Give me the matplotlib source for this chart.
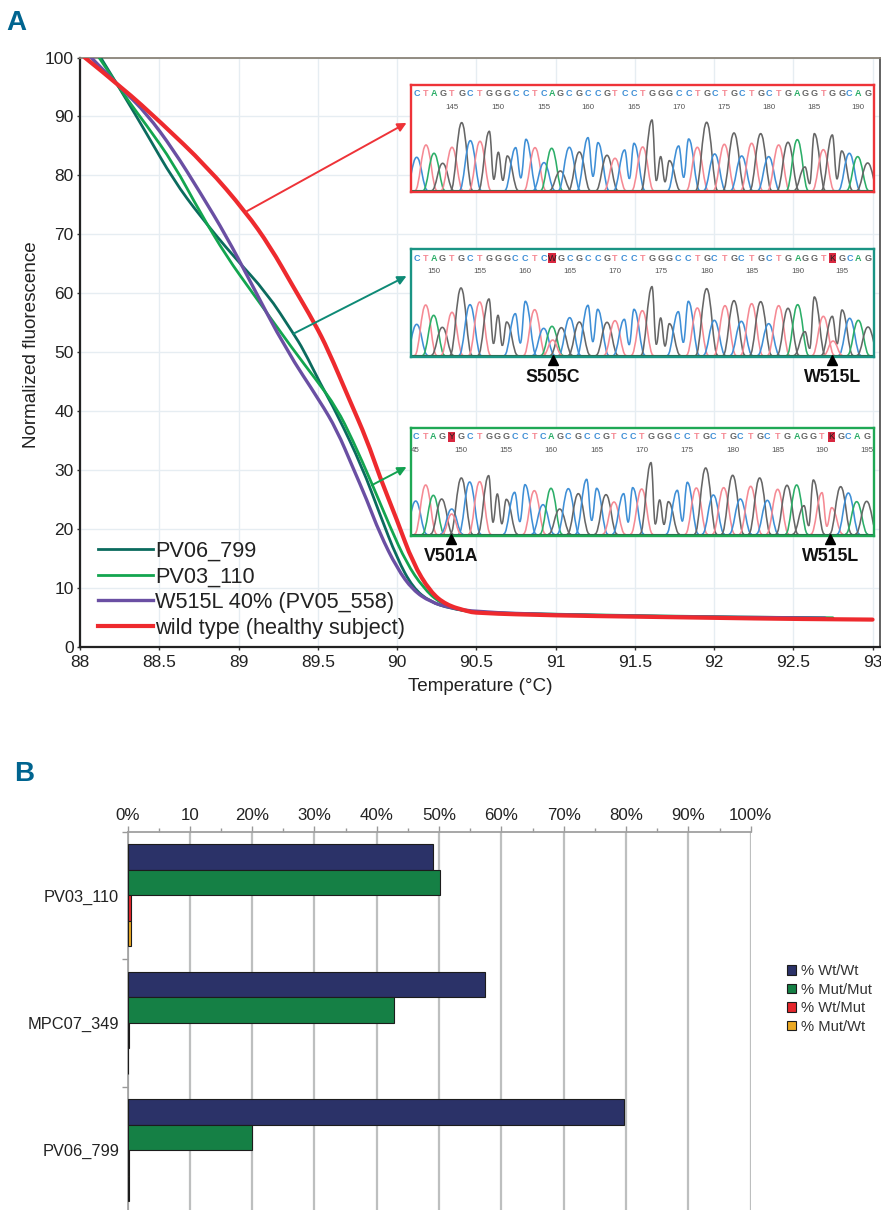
import matplotlib
matplotlib.use('Agg')
import matplotlib.pyplot as plt
from matplotlib.lines import Line2D
from matplotlib.path import Path
from matplotlib.patches import PathPatch, Rectangle

W, H = 881, 1210
REG = ['Liberation Sans', 'DejaVu Sans']
plt.rcParams['font.family'] = REG

# Panel A melting curves (temperature, normalized fluorescence)
red_t = [88.03, 88.27, 88.505, 88.8, 89.045, 89.2, 89.345, 89.48, 89.565, 89.70, 89.81, 89.89, 90.0, 90.10, 90.21, 90.31, 90.44, 90.5, 91, 91.5, 92, 92.5, 93]
red_f = [100, 94.8, 89.1, 81.5, 73.8, 67.9, 61.1, 54.9, 50.4, 41.9, 35.1, 28.9, 21.5, 14.2, 9.3, 7.1, 6.05, 5.7, 5.3, 5.1, 4.9, 4.7, 4.6]
purple_t = [88.07, 88.27, 88.42, 88.59, 88.76, 88.925, 89.07, 89.30, 89.515, 89.62, 89.72, 89.81, 89.89, 90.0, 90.10, 90.21, 90.335, 90.5, 91, 91.7, 92.1, 92.7]
purple_f = [100, 94.5, 90.5, 84.3, 77, 69.6, 62.2, 50.4, 41.6, 36.8, 30.5, 24.9, 19.3, 13.3, 9.6, 7.6, 6.6, 5.9, 5.4, 5.1, 5.0, 4.85]
teal_t = [88.13, 88.27, 88.42, 88.59, 88.76, 88.97, 89.18, 89.345, 89.41, 89.515, 89.62, 89.78, 89.89, 90.0, 90.10, 90.21, 90.335, 90.5, 91, 92, 92.75]
teal_f = [100, 93.9, 87.1, 79.2, 73, 66.2, 60, 53.2, 50.4, 44.7, 39.6, 30.5, 22.6, 15, 10, 7.6, 6.5, 5.8, 5.4, 5.0, 4.8]
green_t = [88.12, 88.27, 88.42, 88.59, 88.76, 88.925, 89.09, 89.345, 89.49, 89.62, 89.72, 89.84, 89.955, 90.06, 90.165, 90.27, 90.4, 90.5, 91, 92.15, 92.75]
green_f = [100, 93.9, 88.5, 82, 73.6, 66.2, 60, 50.4, 45.3, 40.5, 35.1, 27.8, 20.4, 14.2, 10, 7.4, 6.2, 5.8, 5.5, 5.0, 4.9]

# Chromatogram insets: called letters, trace channel, peak positions, peak heights
letters1 = 'CTAGTGCTGGGCCTCAGCGCCGTCCTGGGCCTGCTGCTGCTGAGGTGGCAG'[:51]
trace1 = letters1
pos1 = [50, 78, 102, 128, 156, 185, 211, 240, 268, 295, 322, 347, 378, 405, 432, 455, 481, 508, 538, 564, 594, 621, 645, 674, 702, 728, 756, 782, 808, 836, 866, 892, 920, 944, 973, 1002, 1025, 1055, 1082, 1106, 1136, 1164, 1192, 1215, 1243, 1270, 1297, 1325, 1348, 1373, 1403]
height1 = [100, 137, 112, 82, 130, 204, 150, 148, 178, 115, 104, 129, 154, 129, 84, 127, 59, 130, 116, 159, 144, 106, 97, 122, 142, 131, 212, 102, 90, 134, 155, 130, 205, 110, 139, 173, 104, 142, 171, 102, 137, 145, 153, 71, 171, 123, 167, 119, 112, 102, 83]
num_idx1 = [4, 9, 14, 19, 24, 29, 34, 39, 44, 49]
num_lab1 = ['145', '150', '155', '160', '165', '170', '175', '180', '185', '190']

letters2 = 'CTAGTGCTGGGCCTCWGCGCCGTCCTGGGCCTGCTGCTGCTGAGGTKGCAG'
trace2 = 'CTAGTGCTGGGCCTCAGCGCCGTCCTGGGCCTGCTGCTGCTGAGGTGGCAG'
pos2 = [50, 77, 101, 127, 156, 183, 210, 239, 267, 294, 320, 346, 376, 404, 431, 456, 484, 509, 538, 564, 593, 621, 645, 673, 702, 727, 756, 782, 808, 835, 865, 892, 920, 943, 975, 1002, 1024, 1055, 1082, 1106, 1136, 1164, 1193, 1215, 1243, 1270, 1297, 1326, 1349, 1375, 1404]
height2 = [93, 151, 120, 84, 129, 202, 152, 160, 169, 120, 100, 125, 162, 137, 81, 87, 83, 113, 100, 150, 138, 99, 104, 108, 138, 134, 206, 112, 95, 131, 162, 142, 200, 105, 149, 164, 102, 155, 161, 95, 149, 141, 152, 71, 175, 117, 117, 136, 111, 105, 85]
num_idx2 = [2, 7, 12, 17, 22, 27, 32, 37, 42, 47]
num_lab2 = ['150', '155', '160', '165', '170', '175', '180', '185', '190', '195']
extra_base2 = ['T', 'T']
extra_pos2 = [458, 1299]
extra_height2 = [46, 43]

letters3 = 'CTAGYGCTGGGCCTCAGCGCCGTCCTGGGCCTGCTGCTGCTGAGGTKGCAG'
trace3 = 'CTAGCGCTGGGCCTCAGCGCCGTCCTGGGCCTGCTGCTGCTGAGGTTGCAG'
pos3 = [47, 77, 100, 125, 155, 184, 209, 239, 266, 292, 319, 344, 375, 403, 429, 453, 479, 505, 535, 560, 590, 618, 642, 671, 698, 725, 753, 779, 805, 832, 862, 889, 917, 940, 971, 998, 1021, 1052, 1079, 1102, 1133, 1161, 1190, 1212, 1240, 1266, 1295, 1322, 1345, 1370, 1400]
height3 = [99, 147, 116, 105, 75, 168, 156, 157, 175, 120, 104, 125, 148, 130, 88, 137, 75, 136, 121, 164, 137, 118, 96, 121, 139, 135, 214, 102, 97, 131, 155, 138, 198, 117, 139, 176, 105, 143, 168, 101, 134, 146, 147, 85, 162, 124, 79, 142, 123, 97, 98]
num_idx3 = [0, 5, 10, 15, 20, 25, 30, 35, 40, 45, 50]
num_lab3 = ['45', '150', '155', '160', '165', '170', '175', '180', '185', '190', '195']
extra_base3 = ['T']
extra_pos3 = [155]
extra_height3 = [60]

# Panel B genotype percentages
samples = ['PV03_110', 'MPC07_349', 'PV06_799']
wt_wt = [49.0, 57.3, 79.6]
mut_mut = [50.2, 42.8, 20.0]
wt_mut = [0.6, 0.2, 0.3]
mut_wt = [0.6, 0.1, 0.3]
pct_labels = ['0%', '10', '20%', '30%', '40%', '50%', '60%', '70%', '80%', '90%', '100%']

BASE_COL = {'G': '#666666', 'C': '#3f8fd6', 'T': '#f58a94', 'A': '#2cae68'}


def px_axes(x0, y0, x1, y1):
    # axes from pixel box, y measured from the top of the image
    return fig.add_axes([x0 / W, 1 - y1 / H, (x1 - x0) / W, (y1 - y0) / H])


def smooth_line(ax, xs, ys, col, lw, z):
    # read points act as control points of a quadratic path, keeps the curve from looking kinked
    verts = [(xs[0], ys[0])]
    codes = [Path.MOVETO]
    for i in range(1, len(xs) - 1):
        end = (xs[-1], ys[-1]) if i == len(xs) - 2 else ((xs[i] + xs[i + 1]) / 2, (ys[i] + ys[i + 1]) / 2)
        verts += [(xs[i], ys[i]), end]
        codes += [Path.CURVE3, Path.CURVE3]
    ax.add_patch(PathPatch(Path(verts, codes), fill=False, ec=col, lw=lw, zorder=z, capstyle='round', joinstyle='round'))


def add_peak(ax, x, h, col, xl, yl, xr, yr):
    verts = [(xl, yl), (xl + (x - xl) * 0.42, yl), (x - (x - xl) * 0.42, h), (x, h),
             (x + (xr - x) * 0.42, h), (xr - (xr - x) * 0.42, yr), (xr, yr)]
    codes = [Path.MOVETO] + [Path.CURVE4] * 6
    ax.add_patch(PathPatch(Path(verts, codes), fill=False, ec=col, lw=1.15, capstyle='round'))


def draw_inset(box, edge, baseline, letters, trace, pos, height, idx, labs, extras=None):
    x0, y0, x1, y1 = box
    ax = px_axes(x0, y0, x1, y1)
    ax.set_zorder(5)
    ax.set_xlim(33, 1422)
    ax.set_ylim(-baseline[0], baseline[1])
    ax.set_xticks([])
    ax.set_yticks([])
    for s in ax.spines.values():
        s.set_color(edge)
        s.set_linewidth(1.7)
    n = len(pos)
    for i in range(n):
        col = BASE_COL[trace[i]]
        xl, yl = pos[i] - 33, 0
        xr, yr = pos[i] + 33, 0
        if i > 0 and trace[i - 1] == trace[i]:
            xl = (pos[i - 1] + pos[i]) / 2
            yl = 0.3 * min(height[i - 1], height[i])
        if i < n - 1 and trace[i + 1] == trace[i]:
            xr = (pos[i + 1] + pos[i]) / 2
            yr = 0.3 * min(height[i + 1], height[i])
        add_peak(ax, pos[i], height[i], col, xl, yl, xr, yr)
    if extras:
        for b, x, h in zip(*extras):
            add_peak(ax, x, h, BASE_COL[b], x - 28, 0, x + 28, 0)
    ax.axhline(1.5, color='#2f6b4f', lw=0.8)
    for i, ch in enumerate(letters):
        if ch in 'WKY':
            ax.add_patch(Rectangle((pos[i] - 11, 276), 22, 30, fc='#d8273f', ec='none'))
            ax.text(pos[i], 291, ch, ha='center', va='center', fontsize=6.5, color='#222222')
        else:
            ax.text(pos[i], 291, ch, ha='center', va='center', fontsize=6.5, fontweight='bold', color=BASE_COL[ch])
    for i, lab in zip(idx, labs):
        ax.text(pos[i], 250, lab, ha='center', va='center', fontsize=5.7, color='#555555')
    return ax


def mark(ax, x, label):
    ax.plot([x], [-14], marker='^', ms=6.5, color='black', clip_on=False, zorder=6)
    ax.text(x, -66, label, ha='center', va='center', fontsize=12.8, fontweight='bold', color='#111111')


fig = plt.figure(figsize=(W / 100, H / 100), dpi=100)
fig.text(16 / W, 1 - 23 / H, 'A', ha='center', va='center', fontsize=20, fontweight='bold', color='#00648f')
fig.text(24 / W, 1 - 774 / H, 'B', ha='center', va='center', fontsize=20, fontweight='bold', color='#00648f')

# Panel A
ax = px_axes(80, 57.5, 880, 646.7)
ax.set_xlim(88, 93.047)
ax.set_ylim(0, 100)
ax.grid(True, color='#e6edf2', lw=1)
ax.set_axisbelow(True)
smooth_line(ax, teal_t, teal_f, '#0b6b5e', 2, 3)
smooth_line(ax, green_t, green_f, '#13a54f', 2, 3)
smooth_line(ax, purple_t, purple_f, '#6a4fa3', 2.4, 4)
smooth_line(ax, red_t, red_f, '#ee2a2e', 3, 5)
curve_handles = [Line2D([], [], color='#0b6b5e', lw=2), Line2D([], [], color='#13a54f', lw=2),
                 Line2D([], [], color='#6a4fa3', lw=2.4), Line2D([], [], color='#ee2a2e', lw=3)]
curve_names = ['PV06_799', 'PV03_110', 'W515L 40% (PV05_558)', 'wild type (healthy subject)']
ax.set_xticks([88, 88.5, 89, 89.5, 90, 90.5, 91, 91.5, 92, 92.5, 93])
ax.set_xticklabels(['88', '88.5', '89', '89.5', '90', '90.5', '91', '91.5', '92', '92.5', '93'])
ax.set_yticks(range(0, 101, 10))
ax.tick_params(labelsize=12.5, length=2.5, width=1, color='#333333', labelcolor='#222222')
ax.tick_params(axis='x', pad=3.5)
ax.tick_params(axis='y', pad=2)
ax.set_xlabel('Temperature (°C)', fontsize=13.6, color='#222222')
ax.set_ylabel('Normalized fluorescence', fontsize=13.6, color='#222222')
ax.xaxis.set_label_coords(0.5, -0.053)
ax.yaxis.set_label_coords(-0.05, 0.512)
for s in ['left', 'bottom']:
    ax.spines[s].set_linewidth(1.6)
    ax.spines[s].set_color('#222222')
ax.spines['top'].set_color('#8a8378')
ax.spines['top'].set_linewidth(1.3)
ax.spines['right'].set_color('#555555')
ax.spines['right'].set_linewidth(1.3)
leg = ax.legend(curve_handles, curve_names, loc='lower left', bbox_to_anchor=(0.0197, 0.0097), frameon=False,
                fontsize=15.7, handlelength=2.52, handletextpad=0.1,
                labelspacing=0.22, borderpad=0.1, borderaxespad=0)
for t in leg.get_texts():
    t.set_color('#222222')

ax.annotate('', xy=(90.06, 88.9), xytext=(89.045, 73.8),
            arrowprops=dict(arrowstyle='-|>', color='#ee3338', lw=1.4, mutation_scale=13, shrinkA=0, shrinkB=0), zorder=6)
ax.annotate('', xy=(90.06, 62.9), xytext=(89.345, 53.1),
            arrowprops=dict(arrowstyle='-|>', color='#0e8a76', lw=1.4, mutation_scale=13, shrinkA=0, shrinkB=0), zorder=6)
ax.annotate('', xy=(90.06, 30.5), xytext=(89.84, 27.4),
            arrowprops=dict(arrowstyle='-|>', color='#12a150', lw=1.4, mutation_scale=13, shrinkA=0, shrinkB=0), zorder=6)

draw_inset((411, 85, 874, 192.3), '#ee3338', (5, 317), letters1, trace1, pos1, height1, num_idx1, num_lab1)
ins2 = draw_inset((411, 249.3, 874, 356.7), '#1a9484', (4, 318), letters2, trace2, pos2, height2, num_idx2, num_lab2,
                  (extra_base2, extra_pos2, extra_height2))
mark(ins2, 458, 'S505C')
mark(ins2, 1297, 'W515L')
ins3 = draw_inset((411, 428.3, 874, 535.7), '#1fa855', (5, 317), letters3, trace3, pos3, height3, num_idx3, num_lab3,
                  (extra_base3, extra_pos3, extra_height3))
mark(ins3, 152, 'V501A')
mark(ins3, 1291, 'W515L')

# Panel B, axes run on below the bottom edge of the picture
bx = px_axes(127.5, 831.7, 750.7, 1214)
bx.set_xlim(0, 100)
bx.set_ylim(3, 0)
groups = [0.5, 1.5, 2.5]
bar_h = 0.2
bar_cols = ['#2b3268', '#158045', '#e5262c', '#eba822']
bar_names = ['% Wt/Wt', '% Mut/Mut', '% Wt/Mut', '% Mut/Wt']
for k, vals in enumerate([wt_wt, mut_mut, wt_mut, mut_wt]):
    offs = [g + (k - 1.5) * bar_h for g in groups]
    bx.barh(offs, vals, height=bar_h, color=bar_cols[k], edgecolor='#1c1c1c', lw=0.8, label=bar_names[k], zorder=3)
bx.set_xticks(range(0, 101, 10))
bx.set_xticklabels(pct_labels)
bx.set_xticks(range(5, 100, 10), minor=True)
bx.xaxis.tick_top()
bx.grid(True, axis='x', color='#bdbfbf', lw=1.6, zorder=0)
bx.set_axisbelow(True)
bx.set_yticks([0, 1, 2])
bx.set_yticklabels([])
bx.set_yticks(groups, minor=True)
bx.set_yticklabels(samples, minor=True)
bx.tick_params(axis='x', which='major', labelsize=12.2, length=4, width=1, color='#999999', labelcolor='#222222', pad=2.5)
bx.tick_params(axis='x', which='minor', length=3, width=1, color='#999999')
bx.tick_params(axis='y', which='major', length=4, width=1, color='#999999')
bx.tick_params(axis='y', which='minor', length=0, labelsize=11.8, labelcolor='#222222', pad=6)
for s in ['right', 'bottom']:
    bx.spines[s].set_visible(False)
bx.spines['top'].set_color('#a0a0a0')
bx.spines['top'].set_linewidth(1.3)
bx.spines['left'].set_color('#a0a0a0')
bx.spines['left'].set_linewidth(1.2)
handles, names = bx.get_legend_handles_labels()
bleg = fig.legend(handles, names, loc='center left', bbox_to_anchor=(787 / W, 1 - 999 / H), frameon=False,
                  fontsize=10.6, handlelength=0.62, handleheight=0.62, handletextpad=0.3, labelspacing=0.3,
                  borderpad=0, borderaxespad=0)
for t in bleg.get_texts():
    t.set_color('#333333')

fig.savefig('out.png', dpi=100, facecolor='white')
